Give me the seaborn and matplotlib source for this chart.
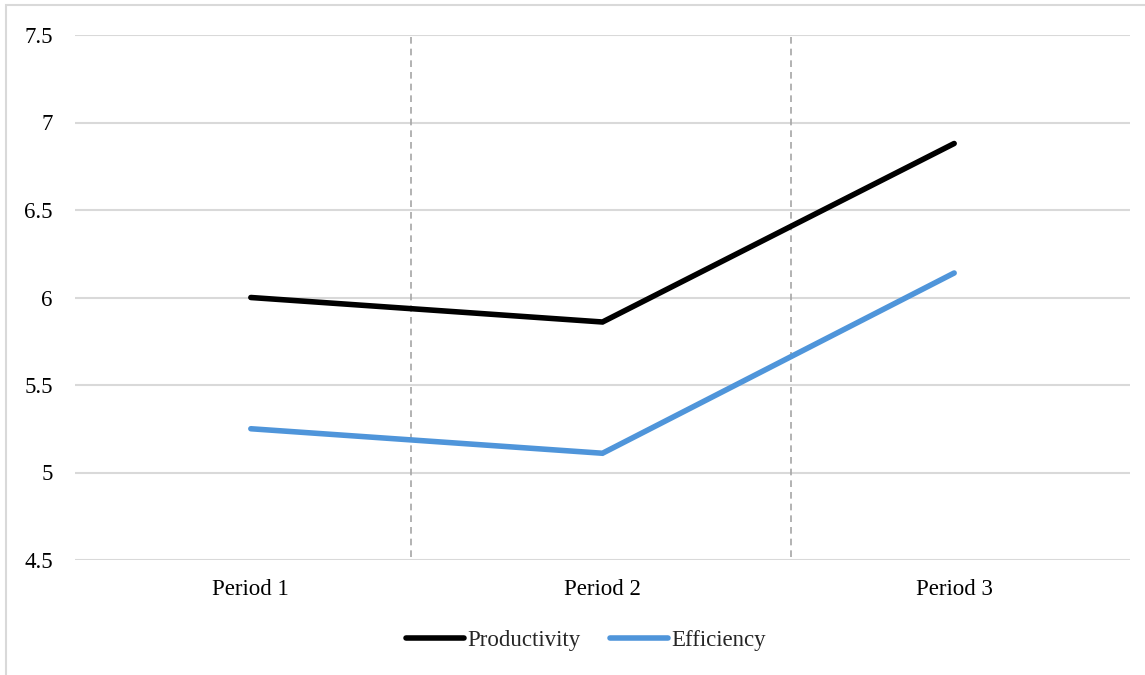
import matplotlib
matplotlib.use("Agg")
import matplotlib.pyplot as plt
import pandas as pd
import seaborn as sns
from matplotlib.patches import Rectangle
from matplotlib.lines import Line2D

# Chart data
periods = ["Period 1", "Period 2", "Period 3"]
productivity = [6.00, 5.86, 6.88]
efficiency = [5.25, 5.11, 6.14]
series_names = ["Productivity", "Efficiency"]
y_ticks = [4.5, 5, 5.5, 6, 6.5, 7, 7.5]
y_tick_labels = ["4.5", "5", "5.5", "6", "6.5", "7", "7.5"]
separators = [0.455, 1.535]

df = pd.DataFrame({
    "period": periods * 2,
    "value": productivity + efficiency,
    "series": [series_names[0]] * len(periods) + [series_names[1]] * len(periods),
})

sns.set_style("white")
plt.rcParams["font.family"] = ["Liberation Serif", "DejaVu Serif"]

fig = plt.figure(figsize=(11.45, 6.75), dpi=100)
ax = fig.add_axes([75 / 1145, 1 - 560 / 675, (1130 - 75) / 1145, (560 - 35) / 675])

palette = {"Productivity": "#000000", "Efficiency": "#4F95DA"}
sns.lineplot(data=df, x="period", y="value", hue="series", palette=palette,
             linewidth=4.0, sort=False, ax=ax, legend=False,
             solid_capstyle="round", solid_joinstyle="miter")

ax.set_xlim(-0.5, 2.5)
ax.set_ylim(4.5, 7.5)
ax.set_yticks(y_ticks)
ax.set_yticklabels(y_tick_labels)
ax.set_xlabel("")
ax.set_ylabel("")
ax.tick_params(axis="both", length=0, labelsize=16.5, colors="#000000")
ax.tick_params(axis="y", pad=16)
ax.tick_params(axis="x", pad=14)

for y in y_ticks:
    ax.axhline(y, color="#D9D9D9", linewidth=1.5, zorder=0)
for s in ax.spines.values():
    s.set_visible(False)

# dashed separators between periods
for xs in separators:
    ax.plot([xs, xs], [4.52, 7.49], color="#A6A6A6", linestyle=(0, (4, 3)),
            linewidth=1.2, zorder=1)

# legend below the plot
handles = [Line2D([], [], color=palette[n], linewidth=4.0, solid_capstyle="round")
           for n in series_names]
fig.legend(handles, series_names, loc="center", bbox_to_anchor=(586 / 1145, 1 - 640 / 675),
           ncol=2, frameon=False, fontsize=16.5, handlelength=2.5, handletextpad=0.15,
           columnspacing=1.3)

# outer chart frame
fig.patches.append(Rectangle((6 / 1145, -0.01), 1.2, 1 - 5 / 675 + 0.01,
                             transform=fig.transFigure, fill=False,
                             edgecolor="#D9D9D9", linewidth=1.5))

fig.savefig("out.png", dpi=100)
